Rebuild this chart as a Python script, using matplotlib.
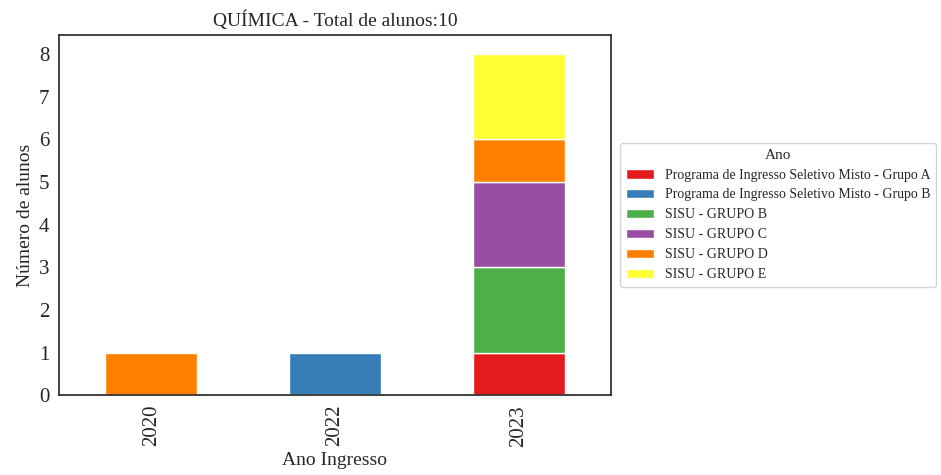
import matplotlib
matplotlib.use("Agg")
import matplotlib.pyplot as plt
import seaborn as sns
import pandas as pd
import numpy as np

sns.set_style("white")
plt.rcParams['font.family'] = ['Liberation Serif', 'DejaVu Serif']

anos = ["2020", "2022", "2023"]
grupos = ["Programa de Ingresso Seletivo Misto - Grupo A",
          "Programa de Ingresso Seletivo Misto - Grupo B",
          "SISU - GRUPO B",
          "SISU - GRUPO C",
          "SISU - GRUPO D",
          "SISU - GRUPO E"]
pism_a = [0, 0, 1]
pism_b = [0, 1, 0]
sisu_b = [0, 0, 2]
sisu_c = [0, 0, 2]
sisu_d = [1, 0, 1]
sisu_e = [0, 0, 2]

df = pd.DataFrame(dict(zip(grupos, [pism_a, pism_b, sisu_b, sisu_c, sisu_d, sisu_e])), index=anos)
cores = sns.color_palette("Set1", 6)

fig, ax = plt.subplots(figsize=(9.41, 4.75), dpi=100)
df.plot(kind="bar", stacked=True, ax=ax, color=cores, edgecolor="white", width=0.5)

ax.set_title("QUÍMICA - Total de alunos:%d" % df.values.sum(), fontsize=14)
ax.set_xlabel("Ano Ingresso", fontsize=14)
ax.set_ylabel("Número de alunos", fontsize=14)
ax.tick_params(axis='both', labelsize=15)
ax.set_yticks(np.arange(0, 9, 1))
ax.set_ylim(0, 8.45)
for s in ax.spines.values():
    s.set_color("#333333")
    s.set_linewidth(1.3)

ax.legend(title="Ano", loc="center left", bbox_to_anchor=(1.005, 0.5), fontsize=10, title_fontsize=11,
          handlelength=2.0)

fig.subplots_adjust(left=0.063, right=0.649, top=0.927, bottom=0.168)
plt.savefig("out.png", dpi=100)
